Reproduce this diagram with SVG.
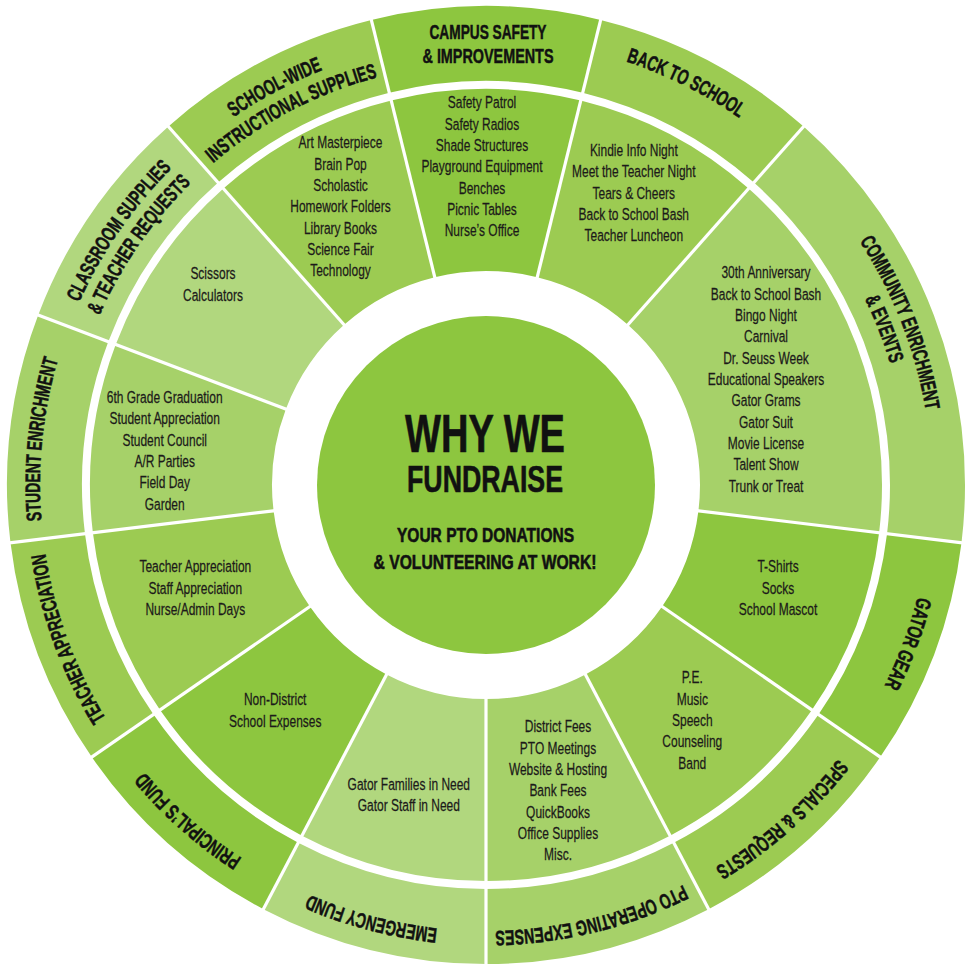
<svg xmlns="http://www.w3.org/2000/svg" xmlns:xlink="http://www.w3.org/1999/xlink" width="969" height="968" viewBox="0 0 969 968">
<defs>
<style>
.c1{fill:#8dc63f}.c2{fill:#9ccb52}.c3{fill:#a6d169}.c4{fill:#b1d77e}
.sep{stroke:#fff;stroke-width:3.2;fill:none}
.t{font-family:"Liberation Sans",Arial,sans-serif;font-size:17px;fill:#1c1a1a;stroke:#1c1a1a;stroke-width:0.25;text-anchor:middle}
.b{font-family:"Liberation Sans",Arial,sans-serif;font-weight:bold;font-size:21px;fill:#111;stroke:#111;stroke-width:0.5;text-anchor:middle}
.h{font-family:"Liberation Sans",Arial,sans-serif;font-weight:bold;fill:#111;stroke:#111;stroke-width:0.6;text-anchor:middle}
</style>
<path id="r446" d="M486,39 A446,446 0 1 1 486,931 A446,446 0 1 1 486,39"/>
<path id="r422" d="M486,63 A422,422 0 1 1 486,907 A422,422 0 1 1 486,63"/>
</defs>
<rect width="969" height="968" fill="#fff"/>

<g id="campus-safety">
<path class="c1" d="M371.37,19.92 A479,479 0 0 1 600.63,19.92 L582.69,92.74 A404,404 0 0 0 389.31,92.74 Z"/>
<path class="c1" d="M391.23,100.51 A396,396 0 0 1 580.77,100.51 L537.21,277.22 A214,214 0 0 0 434.79,277.22 Z"/>
<text class="b" x="488" y="39" textLength="117" lengthAdjust="spacingAndGlyphs">CAMPUS SAFETY</text>
<text class="b" x="488" y="63" textLength="131" lengthAdjust="spacingAndGlyphs">&amp; IMPROVEMENTS</text>
<text class="t" transform="translate(482,0) scale(0.705,1)"><tspan x="0" y="108.5">Safety Patrol</tspan><tspan x="0" y="129.8">Safety Radios</tspan><tspan x="0" y="151.2">Shade Structures</tspan><tspan x="0" y="172.5">Playground Equipment</tspan><tspan x="0" y="193.8">Benches</tspan><tspan x="0" y="215.2">Picnic Tables</tspan><tspan x="0" y="236.5">Nurse’s Office</tspan></text>
</g>

<g id="back-to-school">
<path class="c2" d="M600.63,19.92 A479,479 0 0 1 803.63,126.46 L753.90,182.60 A404,404 0 0 0 582.69,92.74 Z"/>
<path class="c2" d="M580.77,100.51 A396,396 0 0 1 748.60,188.59 L627.91,324.82 A214,214 0 0 0 537.21,277.22 Z"/>
<text class="b"><textPath xlink:href="#r446" href="#r446" startOffset="206" textLength="127" lengthAdjust="spacingAndGlyphs">BACK TO SCHOOL</textPath></text>
<text class="t" transform="translate(633.8,0) scale(0.705,1)"><tspan x="0" y="156">Kindie Info Night</tspan><tspan x="0" y="177.3">Meet the Teacher Night</tspan><tspan x="0" y="198.7">Tears &amp; Cheers</tspan><tspan x="0" y="220">Back to School Bash</tspan><tspan x="0" y="241.3">Teacher Luncheon</tspan></text>
</g>

<g id="community-enrichment">
<path class="c3" d="M803.63,126.46 A479,479 0 0 1 961.51,542.74 L887.05,533.70 A404,404 0 0 0 753.90,182.60 Z"/>
<path class="c3" d="M748.60,188.59 A396,396 0 0 1 879.11,532.73 L698.44,510.80 A214,214 0 0 0 627.91,324.82 Z"/>
<text class="b"><textPath xlink:href="#r446" href="#r446" startOffset="534" textLength="183" lengthAdjust="spacingAndGlyphs">COMMUNITY ENRICHMENT</textPath></text>
<text class="b"><textPath xlink:href="#r422" href="#r422" startOffset="505" textLength="70" lengthAdjust="spacingAndGlyphs">&amp; EVENTS</textPath></text>
<text class="t" transform="translate(766,0) scale(0.705,1)"><tspan x="0" y="278.3">30th Anniversary</tspan><tspan x="0" y="299.7">Back to School Bash</tspan><tspan x="0" y="321">Bingo Night</tspan><tspan x="0" y="342.3">Carnival</tspan><tspan x="0" y="363.7">Dr. Seuss Week</tspan><tspan x="0" y="385">Educational Speakers</tspan><tspan x="0" y="406.3">Gator Grams</tspan><tspan x="0" y="427.7">Gator Suit</tspan><tspan x="0" y="449">Movie License</tspan><tspan x="0" y="470.3">Talent Show</tspan><tspan x="0" y="491.7">Trunk or Treat</tspan></text>
</g>

<g id="gator-gear">
<path class="c1" d="M961.51,542.74 A479,479 0 0 1 880.21,757.10 L818.49,714.50 A404,404 0 0 0 887.05,533.70 Z"/>
<path class="c1" d="M879.11,532.73 A396,396 0 0 1 811.90,709.95 L662.12,606.56 A214,214 0 0 0 698.44,510.80 Z"/>
<text class="b"><textPath xlink:href="#r446" href="#r446" startOffset="861" textLength="95" lengthAdjust="spacingAndGlyphs">GATOR GEAR</textPath></text>
<text class="t" transform="translate(778,0) scale(0.705,1)"><tspan x="0" y="572.3">T-Shirts</tspan><tspan x="0" y="593.7">Socks</tspan><tspan x="0" y="615">School Mascot</tspan></text>
</g>

<g id="specials-requests">
<path class="c2" d="M880.21,757.10 A479,479 0 0 1 708.60,909.14 L673.75,842.73 A404,404 0 0 0 818.49,714.50 Z"/>
<path class="c2" d="M811.90,709.95 A396,396 0 0 1 670.03,835.64 L585.45,674.49 A214,214 0 0 0 662.12,606.56 Z"/>
<text class="b"><textPath xlink:href="#r446" href="#r446" startOffset="1077.8" textLength="165" lengthAdjust="spacingAndGlyphs">SPECIALS &amp; REQUESTS</textPath></text>
<text class="t" transform="translate(692.3,0) scale(0.705,1)"><tspan x="0" y="683.3">P.E.</tspan><tspan x="0" y="704.7">Music</tspan><tspan x="0" y="726">Speech</tspan><tspan x="0" y="747.3">Counseling</tspan><tspan x="0" y="768.7">Band</tspan></text>
</g>

<g id="pto-operating-expenses">
<path class="c3" d="M708.60,909.14 A479,479 0 0 1 486,964 L486,889 A404,404 0 0 0 673.75,842.73 Z"/>
<path class="c3" d="M670.03,835.64 A396,396 0 0 1 486,881 L486,699 A214,214 0 0 0 585.45,674.49 Z"/>
<text class="b"><textPath xlink:href="#r446" href="#r446" startOffset="1294" textLength="195" lengthAdjust="spacingAndGlyphs">PTO OPERATING EXPENSES</textPath></text>
<text class="t" transform="translate(558,0) scale(0.705,1)"><tspan x="0" y="732.3">District Fees</tspan><tspan x="0" y="753.7">PTO Meetings</tspan><tspan x="0" y="775">Website &amp; Hosting</tspan><tspan x="0" y="796.3">Bank Fees</tspan><tspan x="0" y="817.7">QuickBooks</tspan><tspan x="0" y="839">Office Supplies</tspan><tspan x="0" y="860.3">Misc.</tspan></text>
</g>

<g id="emergency-fund">
<path class="c4" d="M486,964 A479,479 0 0 1 263.40,909.14 L298.25,842.73 A404,404 0 0 0 486,889 Z"/>
<path class="c4" d="M486,881 A396,396 0 0 1 301.97,835.64 L386.55,674.49 A214,214 0 0 0 486,699 Z"/>
<text class="b"><textPath xlink:href="#r446" href="#r446" startOffset="1516" textLength="133" lengthAdjust="spacingAndGlyphs">EMERGENCY FUND</textPath></text>
<text class="t" transform="translate(408.8,0) scale(0.705,1)"><tspan x="0" y="789.7">Gator Families in Need</tspan><tspan x="0" y="811">Gator Staff in Need</tspan></text>
</g>

<g id="principals-fund">
<path class="c1" d="M263.40,909.14 A479,479 0 0 1 91.79,757.10 L153.51,714.50 A404,404 0 0 0 298.25,842.73 Z"/>
<path class="c1" d="M301.97,835.64 A396,396 0 0 1 160.10,709.95 L309.88,606.56 A214,214 0 0 0 386.55,674.49 Z"/>
<text class="b"><textPath xlink:href="#r446" href="#r446" startOffset="1724.5" textLength="131" lengthAdjust="spacingAndGlyphs">PRINCIPAL’S FUND</textPath></text>
<text class="t" transform="translate(275.2,0) scale(0.705,1)"><tspan x="0" y="705.5">Non-District</tspan><tspan x="0" y="726.8">School Expenses</tspan></text>
</g>

<g id="teacher-appreciation">
<path class="c2" d="M91.79,757.10 A479,479 0 0 1 10.49,542.74 L84.95,533.70 A404,404 0 0 0 153.51,714.50 Z"/>
<path class="c2" d="M160.10,709.95 A396,396 0 0 1 92.89,532.73 L273.56,510.80 A214,214 0 0 0 309.88,606.56 Z"/>
<text class="b"><textPath xlink:href="#r446" href="#r446" startOffset="1944" textLength="177" lengthAdjust="spacingAndGlyphs">TEACHER APPRECIATION</textPath></text>
<text class="t" transform="translate(195.3,0) scale(0.705,1)"><tspan x="0" y="572.3">Teacher Appreciation</tspan><tspan x="0" y="593.7">Staff Appreciation</tspan><tspan x="0" y="615">Nurse/Admin Days</tspan></text>
</g>

<g id="student-enrichment">
<path class="c3" d="M10.49,542.74 A479,479 0 0 1 38.13,315.15 L108.25,341.74 A404,404 0 0 0 84.95,533.70 Z"/>
<path class="c3" d="M92.89,532.73 A396,396 0 0 1 115.73,344.58 L285.91,409.12 A214,214 0 0 0 273.56,510.80 Z"/>
<text class="b"><textPath xlink:href="#r446" href="#r446" startOffset="2147" textLength="163" lengthAdjust="spacingAndGlyphs">STUDENT ENRICHMENT</textPath></text>
<text class="t" transform="translate(164.7,0) scale(0.705,1)"><tspan x="0" y="403">6th Grade Graduation</tspan><tspan x="0" y="424.3">Student Appreciation</tspan><tspan x="0" y="445.7">Student Council</tspan><tspan x="0" y="467">A/R Parties</tspan><tspan x="0" y="488.3">Field Day</tspan><tspan x="0" y="509.7">Garden</tspan></text>
</g>

<g id="classroom-supplies">
<path class="c4" d="M38.13,315.15 A479,479 0 0 1 168.37,126.46 L218.10,182.60 A404,404 0 0 0 108.25,341.74 Z"/>
<path class="c4" d="M115.73,344.58 A396,396 0 0 1 223.40,188.59 L344.09,324.82 A214,214 0 0 0 285.91,409.12 Z"/>
<text class="b"><textPath xlink:href="#r446" href="#r446" startOffset="2371.2" textLength="164" lengthAdjust="spacingAndGlyphs">CLASSROOM SUPPLIES</textPath></text>
<text class="b"><textPath xlink:href="#r422" href="#r422" startOffset="2243.6" textLength="162" lengthAdjust="spacingAndGlyphs">&amp; TEACHER REQUESTS</textPath></text>
<text class="t" transform="translate(213,0) scale(0.705,1)"><tspan x="0" y="279.3">Scissors</tspan><tspan x="0" y="300.6">Calculators</tspan></text>
</g>

<g id="school-wide-supplies">
<path class="c2" d="M168.37,126.46 A479,479 0 0 1 371.37,19.92 L389.31,92.74 A404,404 0 0 0 218.10,182.60 Z"/>
<path class="c2" d="M223.40,188.59 A396,396 0 0 1 391.23,100.51 L434.79,277.22 A214,214 0 0 0 344.09,324.82 Z"/>
<text class="b"><textPath xlink:href="#r446" href="#r446" startOffset="2584" textLength="101" lengthAdjust="spacingAndGlyphs">SCHOOL-WIDE</textPath></text>
<text class="b"><textPath xlink:href="#r422" href="#r422" startOffset="2447.5" textLength="187" lengthAdjust="spacingAndGlyphs">INSTRUCTIONAL SUPPLIES</textPath></text>
<text class="t" transform="translate(340.5,0) scale(0.705,1)"><tspan x="0" y="148.3">Art Masterpiece</tspan><tspan x="0" y="169.6">Brain Pop</tspan><tspan x="0" y="191">Scholastic</tspan><tspan x="0" y="212.3">Homework Folders</tspan><tspan x="0" y="233.6">Library Books</tspan><tspan x="0" y="255">Science Fair</tspan><tspan x="0" y="276.3">Technology</tspan></text>
</g>

<g id="separators">
<line class="sep" x1="435.74" y1="281.10" x2="370.17" y2="15.07"/>
<line class="sep" x1="536.26" y1="281.10" x2="601.83" y2="15.07"/>
<line class="sep" x1="625.26" y1="327.81" x2="806.95" y2="122.72"/>
<line class="sep" x1="694.47" y1="510.31" x2="966.47" y2="543.34"/>
<line class="sep" x1="658.83" y1="604.29" x2="884.33" y2="759.94"/>
<line class="sep" x1="583.59" y1="670.95" x2="710.92" y2="913.56"/>
<line class="sep" x1="486" y1="695" x2="486" y2="969"/>
<line class="sep" x1="388.41" y1="670.95" x2="261.08" y2="913.56"/>
<line class="sep" x1="313.17" y1="604.29" x2="87.67" y2="759.94"/>
<line class="sep" x1="277.53" y1="510.31" x2="5.53" y2="543.34"/>
<line class="sep" x1="289.65" y1="410.53" x2="33.45" y2="313.37"/>
<line class="sep" x1="346.74" y1="327.81" x2="165.05" y2="122.72"/>
</g>

<g id="center">
<circle class="c1" cx="486" cy="485" r="169"/>
<text class="h" x="485" y="451.7" font-size="54" textLength="160" lengthAdjust="spacingAndGlyphs">WHY WE</text>
<text class="h" x="485" y="491.7" font-size="36" textLength="156" lengthAdjust="spacingAndGlyphs">FUNDRAISE</text>
<text class="h" x="485.5" y="541.7" font-size="21" textLength="177" lengthAdjust="spacingAndGlyphs">YOUR PTO DONATIONS</text>
<text class="h" x="485" y="569.3" font-size="21" textLength="223" lengthAdjust="spacingAndGlyphs">&amp; VOLUNTEERING AT WORK!</text>
</g>
</svg>
